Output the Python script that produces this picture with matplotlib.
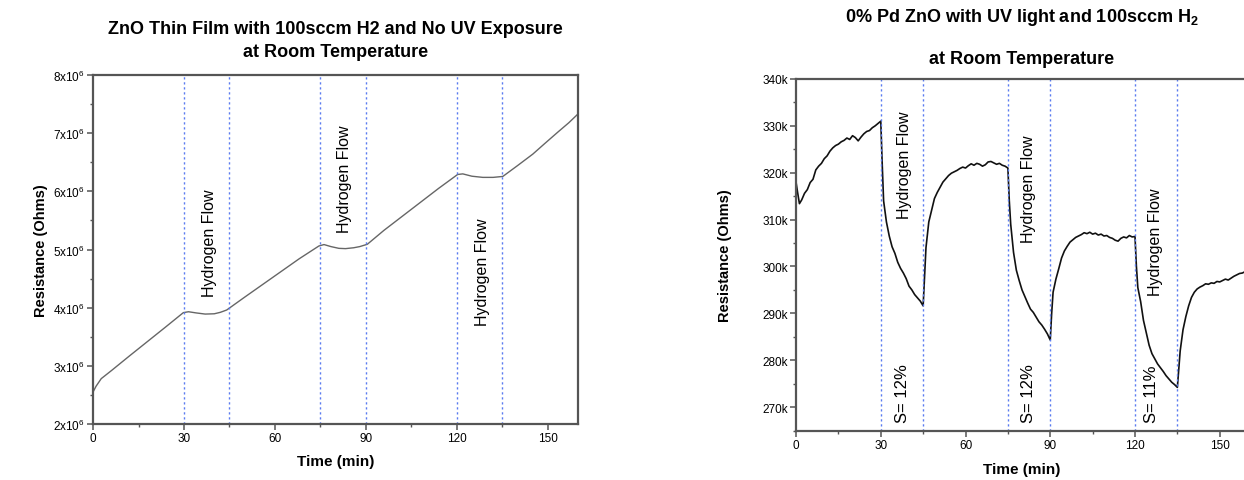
import matplotlib
matplotlib.use("Agg")
import matplotlib.pyplot as plt
from matplotlib.ticker import MultipleLocator, FixedLocator

plt.rcParams['font.family'] = ['Liberation Sans', 'DejaVu Sans']
plt.rcParams['mathtext.default'] = 'regular'

# ---------------- data: left panel (no UV) ----------------
t_left = [0, 1, 2.7, 6.1, 12, 18, 24, 29.8, 31.5, 34, 37, 40, 42, 44.1,
          50, 56, 62, 68, 74.5, 76.2, 78.5, 81.1, 83.3, 86, 88, 90.5,
          96, 102, 108, 114, 120.3, 122, 125, 128.6, 132, 135.2,
          140, 145.1, 149, 153.4, 157, 160]
r_left = [2.55e6, 2.65e6, 2.78e6, 2.92e6, 3.17e6, 3.42e6, 3.67e6, 3.915e6, 3.93e6, 3.91e6, 3.89e6, 3.895e6, 3.92e6, 3.96e6,
          4.18e6, 4.40e6, 4.62e6, 4.84e6, 5.06e6, 5.085e6, 5.05e6, 5.02e6, 5.015e6, 5.03e6, 5.05e6, 5.09e6,
          5.33e6, 5.57e6, 5.81e6, 6.05e6, 6.29e6, 6.30e6, 6.26e6, 6.24e6, 6.24e6, 6.256e6,
          6.44e6, 6.64e6, 6.82e6, 7.02e6, 7.18e6, 7.33e6]

# ---------------- data: right panel (UV light) ----------------
t_right = [0, 0.5, 1.2, 2, 3, 4, 5, 6, 7, 8, 9, 10, 11, 12, 13, 14, 15, 16, 17, 18, 19, 20,
           21, 22, 23, 24, 25, 26, 27, 28, 29, 30,
           30.5, 31, 32, 33, 34, 35, 36, 37, 38, 39, 40, 41, 42, 43, 44, 45,
           45.5, 46, 47, 48, 49, 50, 51, 52, 53, 54, 55, 56, 57, 58, 59, 60,
           61, 62, 63, 64, 65, 66, 67, 68, 69, 70, 71, 72, 73, 74, 75,
           75.5, 76, 77, 78, 79, 80, 81, 82, 83, 84, 85, 86, 87, 88, 89, 90,
           90.5, 91, 92, 93, 94, 95, 96, 97, 98, 99, 100, 101, 102, 103, 104, 105,
           106, 107, 108, 109, 110, 111, 112, 113, 114, 115, 116, 117, 118, 119, 120,
           120.5, 121, 122, 123, 124, 125, 126, 127, 128, 129, 130, 131, 132, 133, 134, 135,
           135.5, 136, 137, 138, 139, 140, 141, 142, 143, 144, 145, 146, 147, 148, 149, 150,
           151, 152, 153, 154, 155, 156, 157, 158, 159, 160]
r_right = [318.0, 316.0, 313.4, 314.2, 315.6, 316.4, 317.9, 318.6, 320.6, 321.4, 322.0, 323.0, 323.6, 324.6, 325.3, 325.8, 326.1, 326.6, 326.9, 327.4, 327.1, 327.9,
           327.5, 326.8, 327.6, 328.3, 328.8, 329.0, 329.6, 330.0, 330.5, 331.0,
           322.0, 314.0, 309.5, 306.5, 304.2, 302.8, 300.9, 299.6, 298.6, 297.4, 295.8, 295.0, 294.0, 293.3, 292.6, 291.6,
           298.0, 304.0, 309.5, 312.0, 314.5, 315.8, 316.9, 318.0, 318.7, 319.4, 319.9, 320.2, 320.5, 320.9, 321.2, 321.0,
           321.5, 321.9, 321.6, 322.0, 321.8, 321.4, 321.7, 322.3, 322.4, 322.1, 321.8, 322.0, 321.6, 321.4, 321.0,
           314.0, 309.0, 303.0, 299.2, 297.0, 295.0, 293.6, 292.2, 290.9, 290.2, 289.2, 288.2, 287.5, 286.6, 285.6, 284.3,
           290.0, 294.5, 297.3, 299.5, 301.8, 303.3, 304.3, 305.2, 305.7, 306.2, 306.5, 306.8, 307.2, 307.0, 307.3, 306.9,
           307.1, 306.7, 306.9, 306.5, 306.6, 306.2, 306.0, 305.6, 305.4, 306.0, 306.3, 306.1, 306.6, 306.3, 306.4,
           300.0, 295.5, 292.5, 288.5, 285.8, 283.2, 281.4, 280.3, 279.2, 278.4, 277.6, 276.7, 276.0, 275.3, 274.8, 274.2,
           278.0, 282.0, 286.5, 289.3, 291.6, 293.4, 294.5, 295.2, 295.6, 295.9, 296.3, 296.2, 296.5, 296.4, 296.8, 296.7,
           297.0, 297.3, 297.1, 297.5, 297.9, 298.2, 298.5, 298.6, 298.9, 299.0]

flow_left = [30, 45, 75, 90, 120, 135]
flow_right = [30, 45, 75, 90, 120, 135]

x_ticks = [0, 30, 60, 90, 120, 150]
y_ticks_left = [2e6, 3e6, 4e6, 5e6, 6e6, 7e6, 8e6]
y_ticklabels_left = ['2x10$^{6}$', '3x10$^{6}$', '4x10$^{6}$', '5x10$^{6}$', '6x10$^{6}$', '7x10$^{6}$', '8x10$^{6}$']
y_ticks_right = [270, 280, 290, 300, 310, 320, 330, 340]
y_ticklabels_right = ['270k', '280k', '290k', '300k', '310k', '320k', '330k', '340k']

title_left = ['ZnO Thin Film with 100sccm H2 and No UV Exposure', 'at Room Temperature']
title_right = ['0% Pd ZnO with UV light and 100sccm H$_{2}$', 'at Room Temperature']

flow_text_left = [(38.4, 5.13e6), (83.0, 6.22e6), (128.5, 4.63e6)]
flow_text_right = [(38.5, 321.8), (82.3, 316.6), (127.4, 305.3)]
s_text_right = [(37.6, 266.8, 'S= 12%'), (82.3, 266.8, 'S= 12%'), (126.0, 266.8, 'S= 11%')]

# ---------------- figure ----------------
fig = plt.figure(figsize=(12.44, 4.81), dpi=100)
axL = fig.add_axes([0.0748, 0.1164, 0.3898, 0.7256])
axR = fig.add_axes([0.6399, 0.1029, 0.3633, 0.7308])

spine_c = '#555555'
vline_c = '#5a7bf0'

def style(ax):
    for s in ax.spines.values():
        s.set_color(spine_c)
        s.set_linewidth(1.6)
    ax.tick_params(which='major', direction='out', length=4, width=1.1, color=spine_c,
                   labelsize=8.5, pad=2)
    ax.tick_params(which='minor', direction='out', length=2.5, width=1.0, color=spine_c)
    ax.xaxis.set_major_locator(FixedLocator(x_ticks))
    ax.xaxis.set_minor_locator(MultipleLocator(15))
    ax.set_xlim(0, 160)
    ax.set_xlabel('Time (min)', fontsize=11, fontweight='bold')

# left panel
style(axL)
axL.plot(t_left, r_left, color='#666666', lw=1.0)
for x in flow_left:
    axL.axvline(x, color=vline_c, lw=1.0, ls=(0, (1.6, 2.0)))
axL.set_ylim(2e6, 8e6)
axL.yaxis.set_major_locator(FixedLocator(y_ticks_left))
axL.set_yticklabels(y_ticklabels_left)
axL.yaxis.set_minor_locator(MultipleLocator(0.5e6))
axL.set_ylabel('Resistance (Ohms)', fontsize=10.5, fontweight='bold')
axL.yaxis.set_label_coords(-0.092, 0.5)
axL.xaxis.set_label_coords(0.5, -0.086)
for x, y in flow_text_left:
    axL.text(x, y, 'Hydrogen Flow', rotation=90, ha='center', va='center', fontsize=11.5)
axL.text(0.5, 1.0 + 46 / 349, title_left[0], transform=axL.transAxes, ha='center', va='center',
         fontsize=13, fontweight='bold')
axL.text(0.5, 1.0 + 23 / 349, title_left[1], transform=axL.transAxes, ha='center', va='center',
         fontsize=13, fontweight='bold')

# right panel
style(axR)
axR.plot(t_right, r_right, color='#111111', lw=1.2)
for x in flow_right:
    axR.axvline(x, color=vline_c, lw=1.0, ls=(0, (1.6, 2.0)))
axR.set_ylim(265, 340)
axR.yaxis.set_major_locator(FixedLocator(y_ticks_right))
axR.set_yticklabels(y_ticklabels_right)
axR.yaxis.set_minor_locator(MultipleLocator(5))
axR.set_ylabel('Resistance (Ohms)', fontsize=10.5, fontweight='bold')
axR.yaxis.set_label_coords(-0.142, 0.5)
axR.xaxis.set_label_coords(0.5, -0.09)
for x, y in flow_text_right:
    axR.text(x, y, 'Hydrogen Flow', rotation=90, ha='center', va='center', fontsize=11.5)
for x, y, s in s_text_right:
    axR.text(x, y, s, rotation=90, ha='center', va='bottom', fontsize=12)
axR.text(0.5, 1.0 + 62 / 351, title_right[0], transform=axR.transAxes, ha='center', va='center',
         fontsize=13, fontweight='bold')
axR.text(0.5, 1.0 + 20 / 351, title_right[1], transform=axR.transAxes, ha='center', va='center',
         fontsize=13, fontweight='bold')

fig.savefig('out.png', dpi=100)
